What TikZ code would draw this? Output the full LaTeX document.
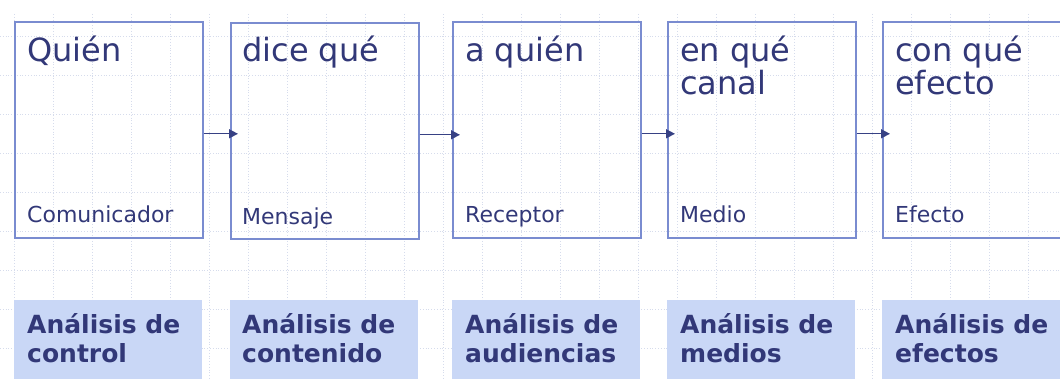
\documentclass[tikz,border=0pt]{standalone}
\usepackage{fontspec}
\setmainfont{DejaVu Sans}
\usetikzlibrary{arrows.meta}

\definecolor{inkblue}{RGB}{50,56,120}
\definecolor{frameblue}{RGB}{122,140,208}
\definecolor{bandblue}{RGB}{201,215,246}
\definecolor{arrowblue}{RGB}{55,65,132}
\definecolor{gridgray}{RGB}{214,220,236}

\begin{document}
\begin{tikzpicture}[x=1pt,y=-1pt,
    stage/.style={draw=frameblue, line width=1.6pt, anchor=north west, inner sep=0pt,
        minimum width=188pt, minimum height=216pt},
    band/.style={fill=bandblue, anchor=north west, inner sep=0pt,
        minimum width=188pt, minimum height=90pt},
    bigtext/.style={text=inkblue, anchor=base west, inner sep=0pt, align=left,
        font=\fontsize{32pt}{33pt}\selectfont},
    roletext/.style={text=inkblue, anchor=base west, inner sep=0pt,
        font=\fontsize{22pt}{26pt}\selectfont},
    studytext/.style={text=inkblue, anchor=base west, inner sep=0pt, align=left,
        font=\fontsize{25pt}{29pt}\selectfont\bfseries},
    flow/.style={-{Triangle[length=9pt,width=9pt]}, draw=arrowblue, line width=1.4pt,
        shorten >=-8pt},
    gridline/.style={draw=gridgray, dotted, line width=0.8pt}]

    \useasboundingbox (0,0) rectangle (1060,379);
    \clip (0,0) rectangle (1060,379);

    % faint background grid
    \foreach \gx in {14,53,...,1060} \draw[gridline] (\gx,14) -- (\gx,379);
    \foreach \gy in {36,75,...,379} \draw[gridline] (0,\gy) -- (1060,\gy);

    % the five stages
    \node[stage] (who) at (14,21) {};
    \node[stage] (what) at (230,22) {};
    \node[stage] (whom) at (452,21) {};
    \node[stage] (channel) at (667,21) {};
    \node[stage] (effect) at (882,21) {};

    \node[bigtext] (whotext) at (27,62) {Quién};
    \node[bigtext] (whattext) at (242,62) {dice qué};
    \node[bigtext] (whomtext) at (465,62) {a quién};
    \node[bigtext] (channeltext) at (680,95) {en qué\\canal};
    \node[bigtext] (effecttext) at (895,95) {con qué\\efecto};

    \node[roletext] (whorole) at (27,223) {Comunicador};
    \node[roletext] (whatrole) at (242,225) {Mensaje};
    \node[roletext] (whomrole) at (465,223) {Receptor};
    \node[roletext] (channelrole) at (680,223) {Medio};
    \node[roletext] (effectrole) at (895,223) {Efecto};

    \draw[flow] ([yshift=-4pt]who.east) -- ([yshift=-4pt]who.east -| what.west);
    \draw[flow] ([yshift=-4pt]what.east) -- ([yshift=-4pt]what.east -| whom.west);
    \draw[flow] ([yshift=-4pt]whom.east) -- ([yshift=-4pt]channel.west);
    \draw[flow] ([yshift=-4pt]channel.east) -- ([yshift=-4pt]effect.west);

    % kinds of analysis
    \node[band] (control) at (14,300) {};
    \node[band] (content) at (230,300) {};
    \node[band] (audience) at (452,300) {};
    \node[band] (media) at (667,300) {};
    \node[band] (effects) at (882,300) {};

    \node[studytext] (controltext) at (27,362) {Análisis de\\control};
    \node[studytext] (contenttext) at (242,362) {Análisis de\\contenido};
    \node[studytext] (audiencetext) at (465,362) {Análisis de\\audiencias};
    \node[studytext] (mediatext) at (680,362) {Análisis de\\medios};
    \node[studytext] (effectstext) at (895,362) {Análisis de\\efectos};
\end{tikzpicture}
\end{document}
